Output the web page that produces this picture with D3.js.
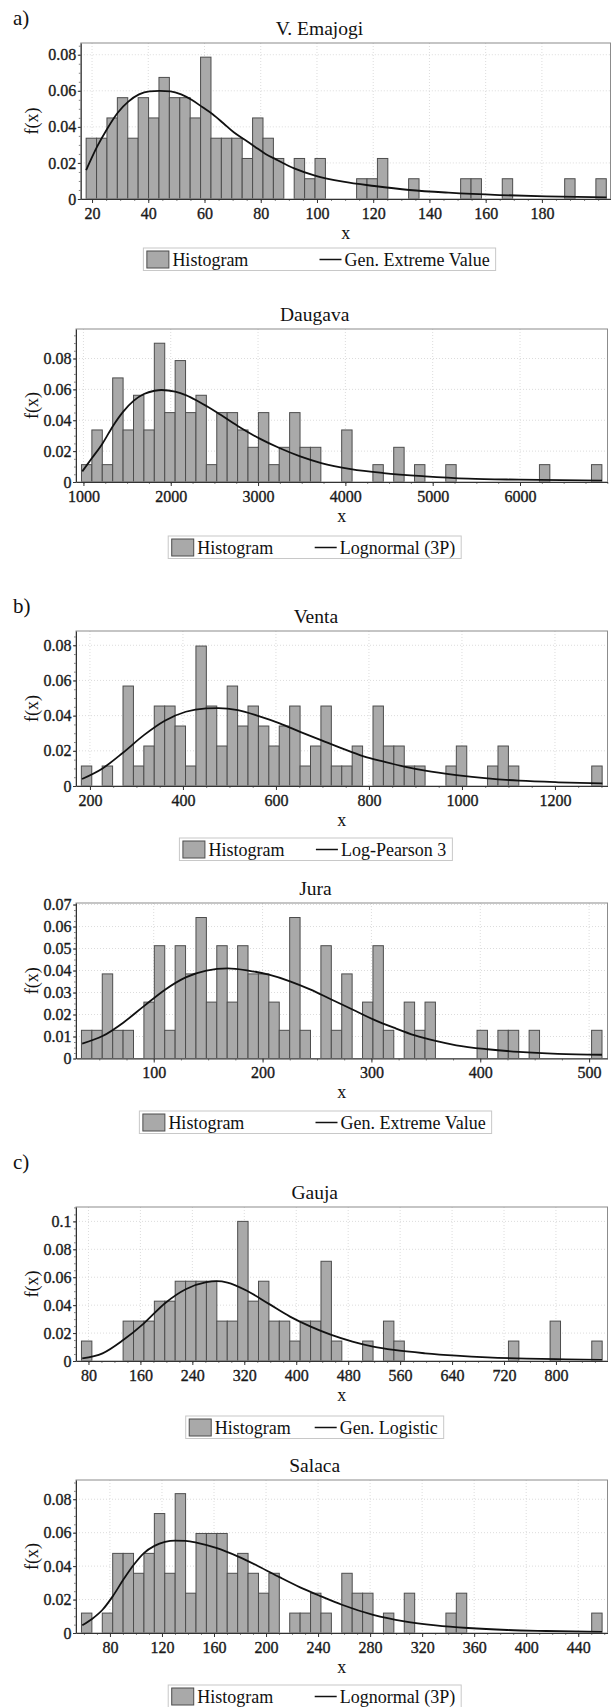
<!DOCTYPE html>
<html lang="en">
<head>
<meta charset="UTF-8">
<title>Histograms with fitted distributions</title>
<script src="https://d3js.org/d3.v7.min.js"></script>
<style>
  body { margin: 0; background: #fff; }
  svg text { font-family: "Liberation Serif", "Times New Roman", serif; fill: #111; }
  .bar { fill: #a9a9a9; stroke: #4d4d4d; stroke-width: 1; }
  .fit { fill: none; stroke: #111; stroke-width: 1.8; }
  .grid line { stroke: #dcdcdc; stroke-dasharray: 1,2; }
  .frame { fill: none; stroke: #8c8c8c; stroke-width: 1; }
  .axis path { stroke: #333; }
  .axis line { stroke: #333; }
  .minor line { stroke: #888; }
  .axis text { font-size: 16px; fill: #1a1a1a; stroke: #1a1a1a; stroke-width: 0.35px; }
  .title { font-size: 19.5px; }
  .alabel { font-size: 18px; }
  .group { font-size: 21px; }
  .legend text { font-size: 18px; }
</style>
</head>
<body>
<svg width="612" height="1707"></svg>
<script>
// panel texts
const riverNames = ["V. Emajogi", "Daugava", "Venta", "Jura", "Gauja", "Salaca"];
const fitNames = ["Gen. Extreme Value", "Lognormal (3P)", "Log-Pearson 3",
                  "Gen. Extreme Value", "Gen. Logistic", "Lognormal (3P)"];
const groupLabels = ["a)", "", "b)", "", "c)", ""];

// histogram counts per bin (50 bins each), heights = count / total
const emajogiCounts = [3,3,4,5,3,5,4,6,5,5, 4,7,3,3,3,2,4,3,2,0, 2,1,2,0,0,0,1,1,2,0,
                       0,1,0,0,0,0,1,1,0,0, 1,0,0,0,0,0,1,0,0,1];
const daugavaCounts = [1,3,1,6,3,5,3,8,4,7, 4,5,1,4,4,3,2,4,1,2, 4,2,2,0,0,3,0,0,1,0,
                       2,0,1,0,0,1,0,0,0,0, 0,0,0,0,1,0,0,0,0,1];
const ventaCounts   = [1,0,1,0,5,1,2,4,4,3, 1,7,4,2,5,3,4,3,2,3, 4,1,2,4,1,1,2,0,4,2,
                       2,1,1,0,0,1,2,0,0,1, 2,1,0,0,0,0,0,0,0,1];
const juraCounts    = [1,1,3,1,1,0,2,4,1,4, 3,5,2,4,2,4,3,3,2,1, 5,1,0,4,1,3,0,2,4,1,
                       0,2,1,2,0,0,0,0,1,0, 1,1,0,1,0,0,0,0,0,1];
const gaujaCounts   = [1,0,0,0,2,2,2,3,3,4, 4,4,4,2,2,7,3,4,2,2, 1,2,2,5,1,0,0,1,0,2,
                       1,0,0,0,0,0,0,0,0,0, 0,1,0,0,0,2,0,0,0,1];
const salacaCounts  = [1,0,1,4,4,3,4,6,3,7, 2,5,5,5,3,4,3,2,3,0, 1,1,2,1,0,3,2,2,0,1,
                       0,2,0,0,0,1,2,0,0,0, 0,0,0,0,0,0,0,0,0,1];

// first bin edge and bin width (x units)
const binStarts = [17.9, 977.6, 181.5, 33.6, 69.2, 58.1];
const binWidths = [3.70, 119.2, 22.4, 9.565, 16.04, 8.005];

// fitted density curves
const emajogiFitX = [17.9,21.8,25.4,29.2,32.9,36.7,40.4,44,47.9,51.7,55.4,59.2,62.9,66.7,70.4,
                     74.2,77.9,81.7,85.4,91.9,99.3,109.3,120.4,132.9,146.8,164.9,181.5,203];
const emajogiFitY = [0.016,0.029,0.039,0.048,0.054,0.058,0.0597,0.060,0.0597,0.058,0.055,0.051,
                     0.047,0.042,0.037,0.033,0.029,0.025,0.022,0.017,0.013,0.0096,0.0072,0.005,
                     0.0035,0.0022,0.0015,0.0009];
const daugavaFitX = [987,1098,1219,1335,1456,1577,1693,1814,1894,2051,2172,2292,2409,2530,2767,
                     3008,3245,3482,3724,4063,4435,4913,5405,5987,6939];
const daugavaFitY = [0.0069,0.0155,0.025,0.036,0.0456,0.0527,0.057,0.0591,0.0596,0.0585,0.0563,
                     0.053,0.0492,0.045,0.0363,0.0284,0.022,0.0166,0.0123,0.0084,0.0058,0.0037,
                     0.0022,0.0015,0.0009];
const ventaFitX = [183,227,271,316,361,406,450,476,518,563,608,652,697,742,787,832,876,921,
                   988,1055,1123,1207,1302];
const ventaFitY = [0.004,0.010,0.0189,0.0289,0.0371,0.0422,0.0441,0.0443,0.0431,0.0397,0.0356,
                   0.0308,0.0261,0.0214,0.017,0.0138,0.011,0.0087,0.0062,0.0043,0.003,0.0021,0.0015];
const juraFitX = [34.3,53,72,91,110.4,129.4,148.4,167.8,186.8,205.8,225.2,244.2,263.2,282.6,
                  301.6,320.6,340,359,378,406.7,435.4,471.3,511.8];
const juraFitY = [0.0068,0.0102,0.0163,0.0238,0.0313,0.0369,0.040,0.041,0.040,0.0381,0.0351,
                  0.0313,0.0268,0.0223,0.0178,0.014,0.0105,0.008,0.006,0.0042,0.003,0.0021,0.0017];
const gaujaFitX = [70.4,101.7,133.5,165.4,197.9,229.8,261.7,277.9,294.1,326,357.9,390.4,422.3,
                   454.1,486.6,518.5,550.4,598.5,646.6,694.7,754.9,815,871];
const gaujaFitY = [0.0019,0.0055,0.015,0.027,0.0414,0.0514,0.0565,0.0572,0.0562,0.0498,0.0409,
                   0.0318,0.0246,0.0187,0.0139,0.0103,0.0079,0.0055,0.0038,0.0026,0.0017,0.0012,0.0008];
const salacaFitX = [58.7,66.2,74.3,82.1,90.2,98.3,106.1,114.2,122.3,130.1,138.2,146.4,162.3,
                    178.2,194.4,210.3,226.2,242.4,258.3,282.4,306.4,330.4,355.3,385.4,415.4,458.3];
const salacaFitY = [0.0046,0.0084,0.0139,0.0219,0.0318,0.0408,0.0478,0.0521,0.0545,0.0553,0.0551,
                    0.0541,0.0507,0.0458,0.0398,0.0334,0.0273,0.0219,0.0169,0.0109,0.007,0.0046,
                    0.003,0.0018,0.0012,0.0006];

// axis ranges and ticks
const xDomains = [[16.0, 204.4], [915, 7002], [170, 1313], [28.6, 516.9], [60.8, 879.4], [53.9, 462.5]];
const yMaxima = [0.0865, 0.0991, 0.0881, 0.0707, 0.1103, 0.0915];
const xTicks = [
  [20, 40, 60, 80, 100, 120, 140, 160, 180],
  [1000, 2000, 3000, 4000, 5000, 6000],
  [200, 400, 600, 800, 1000, 1200],
  [100, 200, 300, 400, 500],
  [80, 160, 240, 320, 400, 480, 560, 640, 720, 800],
  [80, 120, 160, 200, 240, 280, 320, 360, 400, 440]
];
const yTicks = [
  [0, 0.02, 0.04, 0.06, 0.08],
  [0, 0.02, 0.04, 0.06, 0.08],
  [0, 0.02, 0.04, 0.06, 0.08],
  [0, 0.01, 0.02, 0.03, 0.04, 0.05, 0.06, 0.07],
  [0, 0.02, 0.04, 0.06, 0.08, 0.1],
  [0, 0.02, 0.04, 0.06, 0.08]
];

const allCounts = [emajogiCounts, daugavaCounts, ventaCounts, juraCounts, gaujaCounts, salacaCounts];
const fitX = [emajogiFitX, daugavaFitX, ventaFitX, juraFitX, gaujaFitX, salacaFitX];
const fitY = [emajogiFitY, daugavaFitY, ventaFitY, juraFitY, gaujaFitY, salacaFitY];

// page placement of each panel
const layout = [
  { left: 80.8, right: 610.5, top: 43,   bottom: 199,    legendTop: 248,  center: 319.5, groupY: 25 },
  { left: 76,   right: 607.5, top: 329,  bottom: 482,    legendTop: 536,  center: 314.7 },
  { left: 76,   right: 607.5, top: 631,  bottom: 786,    legendTop: 838,  center: 315.9, groupY: 613 },
  { left: 76,   right: 607.5, top: 903,  bottom: 1058.5, legendTop: 1111, center: 315.5 },
  { left: 76,   right: 607.5, top: 1207, bottom: 1361,   legendTop: 1416, center: 314.7, groupY: 1169 },
  { left: 76,   right: 607.5, top: 1480, bottom: 1633,   legendTop: 1685, center: 314.7 }
];

const FONT = "Liberation Serif, Times New Roman, serif";
const svg = d3.select("svg");

function minorTicks(ticks, parts, domain) {
  const step = (ticks[1] - ticks[0]) / parts;
  const out = [];
  for (let v = ticks[0] - step * Math.floor((ticks[0] - domain[0]) / step); v <= domain[1] + 1e-9; v += step) {
    out.push(+v.toFixed(8));
  }
  return out;
}

layout.forEach((L, p) => {
  const g = svg.append("g");

  const x = d3.scaleLinear().domain(xDomains[p]).range([L.left, L.right]);
  const y = d3.scaleLinear().domain([0, yMaxima[p]]).range([L.bottom, L.top]);

  if (groupLabels[p]) {
    g.append("text").attr("class", "group").attr("x", 13).attr("y", L.groupY).text(groupLabels[p]);
  }

  g.append("text").attr("class", "title")
    .attr("x", L.center).attr("y", L.top - 8)
    .attr("text-anchor", "middle").text(riverNames[p]);

  // grid
  const grid = g.append("g").attr("class", "grid");
  grid.selectAll(".gx").data(xTicks[p]).enter().append("line")
    .attr("x1", d => x(d)).attr("x2", d => x(d)).attr("y1", L.top).attr("y2", L.bottom);
  grid.selectAll(".gy").data(yTicks[p].slice(1)).enter().append("line")
    .attr("x1", L.left).attr("x2", L.right).attr("y1", d => y(d)).attr("y2", d => y(d));

  // bars
  const counts = allCounts[p];
  const total = d3.sum(counts);
  const bins = counts.map((c, i) => ({
    x0: binStarts[p] + i * binWidths[p],
    x1: binStarts[p] + (i + 1) * binWidths[p],
    f: c / total
  }));
  g.selectAll(".bar").data(bins).enter().append("rect")
    .attr("class", "bar")
    .attr("x", d => x(d.x0))
    .attr("width", d => x(d.x1) - x(d.x0))
    .attr("y", d => y(d.f))
    .attr("height", d => y(0) - y(d.f));

  // fitted curve
  const pts = fitX[p].map((v, i) => [v, fitY[p][i]]);
  g.append("path").attr("class", "fit")
    .attr("d", d3.line().x(d => x(d[0])).y(d => y(d[1])).curve(d3.curveMonotoneX)(pts));

  // frame
  g.append("rect").attr("class", "frame")
    .attr("x", L.left).attr("y", L.top)
    .attr("width", L.right - L.left).attr("height", L.bottom - L.top);

  // minor ticks
  g.append("g").attr("class", "minor").attr("transform", `translate(0,${L.bottom})`)
    .call(d3.axisBottom(x).tickValues(minorTicks(xTicks[p], 4, xDomains[p])).tickSize(2).tickFormat(""))
    .call(a => a.select(".domain").remove());
  g.append("g").attr("class", "minor").attr("transform", `translate(${L.left},0)`)
    .call(d3.axisLeft(y).tickValues(minorTicks(yTicks[p], 4, [0, yMaxima[p]])).tickSize(2).tickFormat(""))
    .call(a => a.select(".domain").remove());

  // axes
  g.append("g").attr("class", "axis").attr("transform", `translate(0,${L.bottom})`)
    .call(d3.axisBottom(x).tickValues(xTicks[p]).tickSize(4).tickSizeOuter(0).tickFormat(d => String(d)))
    .attr("font-family", FONT)
    .call(a => a.selectAll("text").attr("dy", null).attr("y", 19.5));
  g.append("g").attr("class", "axis").attr("transform", `translate(${L.left},0)`)
    .call(d3.axisLeft(y).tickValues(yTicks[p]).tickSize(3).tickSizeOuter(0).tickPadding(1.5).tickFormat(d => String(d)))
    .attr("font-family", FONT);

  // axis titles
  g.append("text").attr("class", "alabel")
    .attr("x", (L.left + L.right) / 2).attr("y", L.bottom + 39.5)
    .attr("text-anchor", "middle").text("x");
  g.append("text").attr("class", "alabel")
    .attr("transform", `translate(37.5,${(L.top + L.bottom) / 2}) rotate(-90)`)
    .attr("text-anchor", "middle").text("f(x)");

  // legend: two equal columns centred on the panel
  const leg = g.append("g").attr("class", "legend");
  const box = leg.append("rect").attr("fill", "#fff").attr("stroke", "#c8c8c8");
  const t1 = leg.append("text").text("Histogram");
  const t2 = leg.append("text").text(fitNames[p]);
  const w1 = t1.node().getComputedTextLength() + 29;
  const w2 = t2.node().getComputedTextLength() + 25;
  const colW = Math.max(w1, w2) + 6;
  const bx = L.center - colW;
  const h = 22.5;
  box.attr("x", bx).attr("y", L.legendTop).attr("width", colW * 2).attr("height", h);
  leg.append("rect").attr("class", "bar")
    .attr("x", bx + 3.5).attr("y", L.legendTop + 3).attr("width", 22).attr("height", 17);
  t1.attr("x", bx + 29).attr("y", L.legendTop + 17.5);
  leg.append("line").attr("x1", L.center).attr("x2", L.center + 22)
    .attr("y1", L.legendTop + 11.5).attr("y2", L.legendTop + 11.5)
    .attr("stroke", "#111").attr("stroke-width", 1.5);
  t2.attr("x", L.center + 25).attr("y", L.legendTop + 17.5);
});
</script>
</body>
</html>
